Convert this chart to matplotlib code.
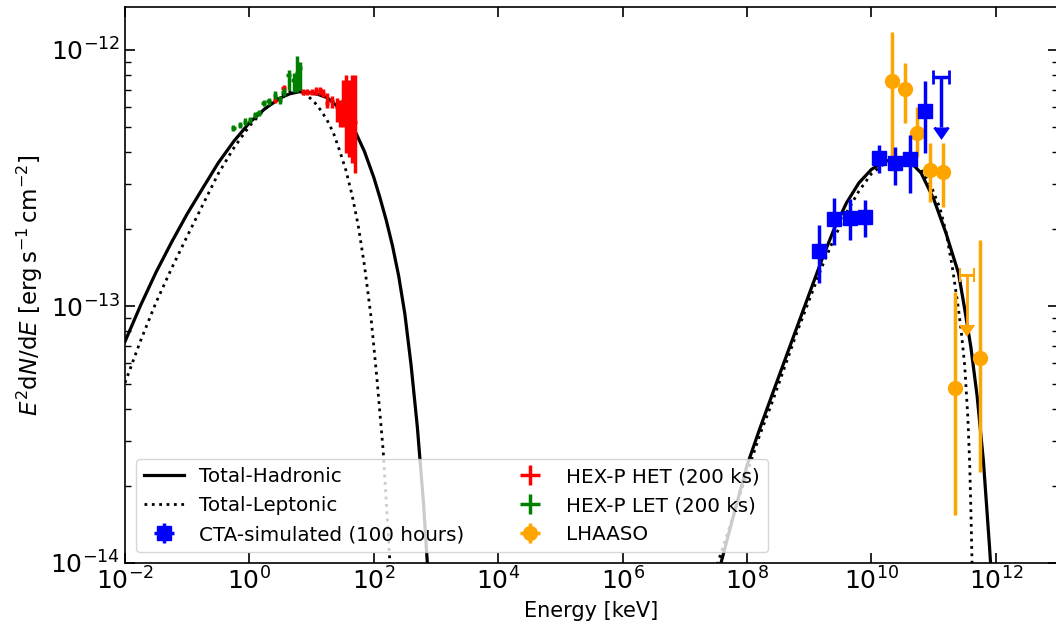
import numpy as np
import matplotlib
matplotlib.use("Agg")
import matplotlib.pyplot as plt
from matplotlib.ticker import LogLocator, NullLocator, NullFormatter, FixedLocator

SCALE = 1e-13  # flux values below are in units of 1e-13 erg s^-1 cm^-2

# ---- model curves ----
had_xray_E = [0.01, 0.01778, 0.03162, 0.05623, 0.1, 0.1778, 0.3162, 0.5623, 1.0, 1.778,
              3.162, 4.467, 6.310, 8.913, 12.59, 17.78, 25.12, 35.48, 50.12, 70.79, 100.0,
              125.9, 158.5, 199.5, 251.2, 316.2, 398.1, 501.2, 631.0, 794.3, 1000.0]
had_xray_F = [0.730, 1.009, 1.361, 1.782, 2.296, 2.891, 3.631, 4.406, 5.200, 5.902,
              6.501, 6.745, 6.871, 6.823, 6.714, 6.516, 6.067, 5.534, 4.819, 4.018, 3.184,
              2.649, 2.168, 1.726, 1.315, 0.933, 0.589, 0.339, 0.170, 0.0708, 0.0251]
had_gamma_E = [2.0e7, 3.981e7, 6.310e7, 1e8, 1.585e8, 2.512e8, 3.981e8, 6.310e8, 1e9,
               1.585e9, 2.512e9, 3.981e9, 6.310e9, 1e10, 1.585e10, 2.512e10, 3.981e10,
               6.310e10, 1e11, 1.585e11, 2.512e11, 3.162e11, 3.981e11, 5.012e11, 6.310e11,
               7.943e11, 1e12]
had_gamma_F = [0.0550, 0.1040, 0.1585, 0.240, 0.331, 0.450, 0.610, 0.826, 1.119,
               1.514, 2.004, 2.535, 3.034, 3.420, 3.664, 3.776, 3.715,
               3.311, 2.630, 1.928, 1.349, 0.977, 0.692, 0.447, 0.251,
               0.1148, 0.0479]

lep_xray_E = [0.01, 0.01778, 0.03162, 0.05623, 0.1, 0.1778, 0.3162, 0.5623, 1.0, 1.778,
              3.162, 4.467, 5.623, 7.079, 8.913, 11.22, 14.13, 17.78, 22.39, 28.18, 35.48,
              44.67, 56.23, 70.79, 89.13, 112.2, 141.3, 177.8, 223.9]
lep_xray_F = [0.504, 0.735, 1.038, 1.409, 1.879, 2.489, 3.296, 4.150, 5.047, 5.888,
              6.637, 6.871, 6.918, 6.808, 6.577, 6.237, 5.808, 5.321, 4.753, 4.055, 3.404,
              2.723, 2.065, 1.445, 0.933, 0.525, 0.275, 0.110, 0.0355]
lep_gamma_E = [2.0e7, 3.388e7, 6.310e7, 1e8, 1.585e8, 2.512e8, 3.981e8, 6.310e8, 1e9,
               1.585e9, 2.512e9, 3.981e9, 6.310e9, 1e10, 1.585e10, 2.512e10, 3.981e10,
               6.310e10, 8.913e10, 1.259e11, 1.585e11, 1.995e11, 2.512e11, 2.818e11,
               3.162e11, 3.548e11, 3.802e11, 3.981e11, 4.169e11, 4.365e11]
lep_gamma_F = [0.0676, 0.100, 0.1585, 0.224, 0.313, 0.420, 0.575, 0.789, 1.059,
               1.419, 1.841, 2.323, 2.818, 3.289, 3.589, 3.715, 3.707,
               3.404, 2.985, 2.427, 1.950, 1.429, 0.977, 0.776,
               0.589, 0.372, 0.245, 0.1585, 0.0955, 0.0501]

# ---- CTA simulated (100 hours) ----
cta_E = [1.426e9, 2.483e9, 4.446e9, 7.943e9, 1.349e10, 2.415e10, 4.217e10, 7.161e10]
cta_Elo = [1.107e9, 1.928e9, 3.451e9, 6.166e9, 1.047e10, 1.875e10, 3.273e10, 5.559e10]
cta_Ehi = [1.837e9, 3.199e9, 5.728e9, 1.023e10, 1.738e10, 3.112e10, 5.433e10, 9.226e10]
cta_F = [1.644, 2.193, 2.218, 2.239, 3.784, 3.639, 3.758, 5.794]
cta_Flo = [1.230, 1.738, 1.816, 1.871, 3.304, 2.979, 2.761, 3.954]
cta_Fhi = [2.080, 2.642, 2.618, 2.600, 4.266, 4.198, 4.667, 7.534]
cta_ul_E, cta_ul_Elo, cta_ul_Ehi = [1.330e11], [9.77e10], [1.738e11]
cta_ul_F, cta_ul_end = [7.87], [5.0]

# ---- LHAASO ----
lha_E = [2.163e10, 3.412e10, 5.470e10, 8.851e10, 1.400e11, 2.234e11, 5.508e11]
lha_Elo = [1.841e10, 2.904e10, 4.656e10, 7.534e10, 1.191e11, 1.901e11, 4.688e11]
lha_Ehi = [2.541e10, 4.009e10, 6.427e10, 1.040e11, 1.644e11, 2.624e11, 6.471e11]
lha_F = [7.568, 7.031, 4.764, 3.404, 3.357, 0.4797, 0.6281]
lha_Flo = [3.837, 5.176, 3.837, 2.564, 2.449, 0.1538, 0.2270]
lha_Fhi = [11.78, 8.872, 5.970, 4.325, 4.325, 1.143, 1.816]
lha_ul_E, lha_ul_Elo, lha_ul_Ehi = [3.436e11], [2.63e11], [4.467e11]
lha_ul_F, lha_ul_end = [1.327], [0.847]

# ---- HEX-P HET (200 ks) ----
het_E = [2.600, 3.540, 6.180, 7.244, 8.511, 10.00, 11.75, 13.80, 15.49, 17.38, 21.38,
         25.70, 28.84, 31.62, 35.48, 39.81, 44.67, 50.12]
het_Elo = [2.40, 3.27, 5.70, 6.68, 7.85, 9.23, 10.84, 12.73, 14.96, 16.41, 19.72,
           23.99, 27.23, 30.20, 33.50, 37.58, 42.17, 47.32]
het_Ehi = [2.81, 3.83, 6.69, 7.84, 9.21, 10.84, 12.73, 14.96, 16.41, 18.84, 23.17,
           27.23, 30.20, 33.50, 37.58, 42.17, 47.32, 53.09]
het_F = [6.383, 7.096, 7.534, 6.871, 6.871, 6.839, 6.918, 6.950, 6.792, 6.194, 6.295,
         6.012, 5.662, 6.310, 5.754, 5.495, 5.495, 5.248]
het_Flo = [6.21, 6.91, 7.28, 6.68, 6.68, 6.65, 6.70, 6.70, 6.55, 5.93, 5.93,
           5.26, 5.02, 5.02, 3.95, 3.84, 3.61, 3.30]
het_Fhi = [6.56, 7.29, 7.80, 7.06, 7.06, 7.03, 7.14, 7.20, 7.05, 6.77, 6.62,
           6.49, 6.38, 7.64, 8.00, 7.64, 8.00, 8.00]

# ---- HEX-P LET (200 ks) ----
let_E = [0.555, 0.711, 0.855, 1.030, 1.239, 1.403, 1.687, 2.032, 2.600, 3.133, 3.540,
         4.266, 5.140, 5.821, 6.577]
let_Elo = [0.512, 0.656, 0.789, 0.951, 1.144, 1.295, 1.557, 1.876, 2.400, 2.892, 3.268,
           3.938, 4.745, 5.488, 6.200]
let_Ehi = [0.602, 0.771, 0.927, 1.117, 1.343, 1.521, 1.829, 2.203, 2.818, 3.396, 3.837,
           4.624, 5.572, 6.174, 6.977]
let_F = [4.955, 5.105, 5.260, 5.333, 5.585, 5.662, 6.194, 6.295, 6.683, 6.383, 6.871,
         7.998, 7.638, 8.110, 8.492]
let_Flo = [4.82, 4.97, 5.12, 5.19, 5.43, 5.51, 6.03, 6.12, 6.46, 6.17, 6.64,
           6.98, 6.87, 6.87, 6.98]
let_Fhi = [5.09, 5.25, 5.41, 5.48, 5.74, 5.82, 6.37, 6.47, 6.91, 6.60, 7.11,
           8.36, 8.11, 9.44, 9.00]

x_ticks = [1e-2, 1e0, 1e2, 1e4, 1e6, 1e8, 1e10, 1e12]
y_ticks = [1e-14, 1e-13, 1e-12]


def arr(v, s=1.0):
    return np.asarray(v, dtype=float) * s


def asym(c, lo, hi, s=1.0):
    c, lo, hi = arr(c, s), arr(lo, s), arr(hi, s)
    return np.vstack([c - lo, hi - c])


fig = plt.figure(figsize=(10.56, 6.32), dpi=100)
ax = fig.add_axes([125 / 1056, 69 / 632, 933 / 1056, 556 / 632])
ax.set_xscale("log")
ax.set_yscale("log")

# model curves
ax.plot(arr(had_xray_E), arr(had_xray_F, SCALE), color="black", lw=2.3, ls="-",
        label="Total-Hadronic", zorder=2)
ax.plot(arr(had_gamma_E), arr(had_gamma_F, SCALE), color="black", lw=2.3, ls="-", zorder=2)
ax.plot(arr(lep_xray_E), arr(lep_xray_F, SCALE), color="black", lw=2.0, ls=":",
        label="Total-Leptonic", zorder=2)
ax.plot(arr(lep_gamma_E), arr(lep_gamma_F, SCALE), color="black", lw=2.0, ls=":", zorder=2)

# CTA
ax.errorbar(arr(cta_E), arr(cta_F, SCALE), xerr=asym(cta_E, cta_Elo, cta_Ehi),
            yerr=asym(cta_F, cta_Flo, cta_Fhi, SCALE), fmt="s", color="blue", ms=10,
            elinewidth=2.5, capsize=0, label="CTA-simulated (100 hours)", zorder=4)
ax.errorbar(arr(cta_ul_E), arr(cta_ul_F, SCALE), xerr=asym(cta_ul_E, cta_ul_Elo, cta_ul_Ehi),
            yerr=arr(cta_ul_F, SCALE) - arr(cta_ul_end, SCALE), uplims=True, fmt="none",
            color="blue", elinewidth=2.5, capsize=5, capthick=2, zorder=4)

# HEX-P
ax.errorbar(arr(het_E), arr(het_F, SCALE), xerr=asym(het_E, het_Elo, het_Ehi),
            yerr=asym(het_F, het_Flo, het_Fhi, SCALE), fmt="none", color="red",
            elinewidth=2.5, capsize=0, label="HEX-P HET (200 ks)", zorder=3)
ax.errorbar(arr(let_E), arr(let_F, SCALE), xerr=asym(let_E, let_Elo, let_Ehi),
            yerr=asym(let_F, let_Flo, let_Fhi, SCALE), fmt="none", color="green",
            elinewidth=2.5, capsize=0, label="HEX-P LET (200 ks)", zorder=3)

# LHAASO
ax.errorbar(arr(lha_E), arr(lha_F, SCALE), xerr=asym(lha_E, lha_Elo, lha_Ehi),
            yerr=asym(lha_F, lha_Flo, lha_Fhi, SCALE), fmt="o", color="orange", ms=10,
            elinewidth=2.5, capsize=0, label="LHAASO", zorder=3)
ax.errorbar(arr(lha_ul_E), arr(lha_ul_F, SCALE), xerr=asym(lha_ul_E, lha_ul_Elo, lha_ul_Ehi),
            yerr=arr(lha_ul_F, SCALE) - arr(lha_ul_end, SCALE), uplims=True, fmt="none",
            color="orange", elinewidth=2, capsize=5, capthick=1.5, zorder=3)

ax.set_xlim(1e-2, 1e13)
ax.set_ylim(1e-14, 1.47e-12)
ax.set_xticks(x_ticks)
ax.xaxis.set_minor_locator(NullLocator())
ax.yaxis.set_major_locator(FixedLocator(y_ticks))
ax.yaxis.set_minor_locator(LogLocator(base=10, subs=np.arange(2, 10)))
ax.yaxis.set_minor_formatter(NullFormatter())
ax.tick_params(which="both", direction="in", top=True, right=True, labelsize=18)
ax.tick_params(which="major", length=7, width=1.2)
ax.tick_params(which="minor", length=4, width=1.0)
for s in ax.spines.values():
    s.set_linewidth(1.2)

ax.set_xlabel("Energy [keV]", fontsize=15)
ax.set_ylabel(r"$E^2 \mathrm{d}N/\mathrm{d}E$ [erg$\,$s$^{-1}\,$cm$^{-2}$]", fontsize=16.5)

ax.legend(loc="lower left", ncol=2, fontsize=14.3, columnspacing=2.3, labelspacing=0.5,
          borderaxespad=0.55)

fig.savefig("out.png", dpi=100)
